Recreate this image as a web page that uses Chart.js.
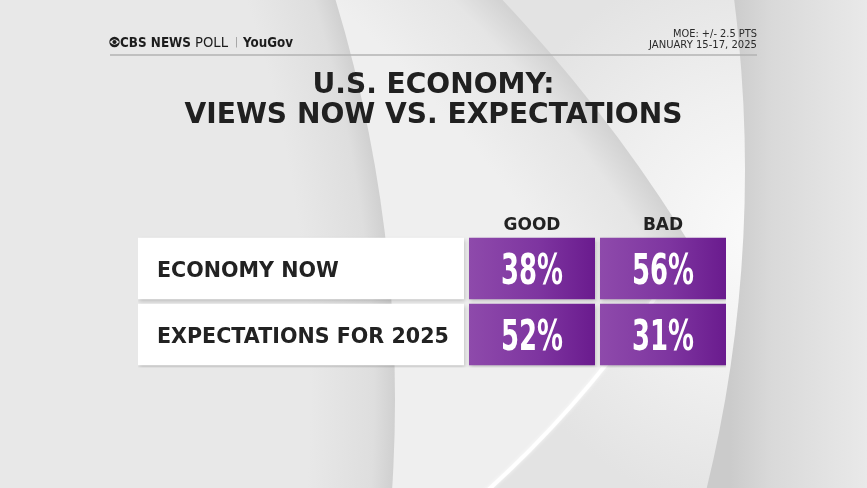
<!DOCTYPE html>
<html>
<head>
<meta charset="utf-8">
<script src="https://cdn.jsdelivr.net/npm/chart.js@4.4.1/dist/chart.umd.min.js"></script>
<style>
  html, body { margin: 0; padding: 0; background: #e8e8e8; overflow: hidden; }
</style>
</head>
<body>
<canvas id="myChart" width="867" height="488"></canvas>
<script>
// chart data
const rows = ["ECONOMY NOW", "EXPECTATIONS FOR 2025"];
const columns = ["GOOD", "BAD"];
const goodValues = [38, 52];
const badValues = [56, 31];
const titleLines = ["U.S. ECONOMY:", "VIEWS NOW VS. EXPECTATIONS"];
const moeText = "MOE: +/- 2.5 PTS";
const dateText = "JANUARY 15-17, 2025";

const values = [goodValues, badValues];

// table layout, in x-scale units (1 unit = 1px)
const LABEL_W = 326;
const CELL_W = 126;
const GAP = 5;
const colStart = (i) => LABEL_W + GAP + i * (CELL_W + GAP);
const TABLE_W = colStart(columns.length - 1) + CELL_W;

const FONT = "'DejaVu Sans', 'Open Sans', sans-serif";
const NUM_FONT = "'Liberation Sans Narrow', 'DejaVu Sans Condensed', sans-serif";

function circle(ctx, cx, cy, r) {
  ctx.beginPath();
  ctx.arc(cx, cy, r, 0, Math.PI * 2);
}

// draw text squeezed/stretched to a given width
function fitText(ctx, text, x, y, width, align) {
  const w = ctx.measureText(text).width;
  ctx.save();
  ctx.translate(x, y);
  ctx.scale(width / w, 1);
  ctx.textAlign = align;
  ctx.fillText(text, 0, 0);
  ctx.restore();
}

function purple(context) {
  const chart = context.chart;
  if (!chart.chartArea) return "#7d33a0";
  const i = context.datasetIndex - 1;
  const x = chart.scales.x;
  const x0 = x.getPixelForValue(colStart(i));
  const x1 = x.getPixelForValue(colStart(i) + CELL_W);
  const g = chart.ctx.createLinearGradient(x0, 0, x1, 0);
  g.addColorStop(0, "#8e4aab");
  g.addColorStop(0.55, "#7e35a0");
  g.addColorStop(1, "#6a1b8e");
  return g;
}

// big CBS eye in the background
const backdrop = {
  id: "backdrop",
  beforeDraw(chart) {
    const ctx = chart.ctx;
    const W = chart.width, H = chart.height;
    ctx.save();
    let g = ctx.createLinearGradient(730, 0, W, 0);
    g.addColorStop(0, "#cbcbcb");
    g.addColorStop(0.3, "#d9d9d9");
    g.addColorStop(1, "#e9e9e9");
    ctx.fillStyle = g;
    ctx.fillRect(0, 0, W, H);

    // outer ring
    circle(ctx, -596, 170, 1341);
    g = ctx.createRadialGradient(765, 235, 0, 765, 235, 280);
    g.addColorStop(0, "#fbfbfb");
    g.addColorStop(0.5, "#f0f0f0");
    g.addColorStop(1, "#e3e3e3");
    ctx.fillStyle = g;
    ctx.fill();

    // lens
    ctx.save();
    circle(ctx, -228, -301, 1069);
    ctx.clip();
    circle(ctx, -587, 1031, 1500);
    g = ctx.createRadialGradient(-587, 1031, 1380, -587, 1031, 1500);
    g.addColorStop(0, "#efefef");
    g.addColorStop(0.7, "#e5e5e5");
    g.addColorStop(1, "#d2d2d2");
    ctx.fillStyle = g;
    ctx.fill();
    ctx.restore();

    // white highlight on the lower lens edge
    ctx.save();
    ctx.beginPath();
    ctx.arc(-228, -301, 1067, 0.56, 1.0);
    ctx.strokeStyle = "rgba(255,255,255,0.95)";
    ctx.lineWidth = 4;
    ctx.shadowColor = "rgba(255,255,255,0.8)";
    ctx.shadowBlur = 4;
    ctx.stroke();
    ctx.restore();

    // pupil
    circle(ctx, -980, 400, 1375);
    g = ctx.createRadialGradient(-980, 400, 1290, -980, 400, 1375);
    g.addColorStop(0, "#e8e8e8");
    g.addColorStop(0.75, "#dedede");
    g.addColorStop(1, "#d0d0d0");
    ctx.fillStyle = g;
    ctx.fill();
    ctx.restore();
  },
  afterDraw(chart) {
    const ctx = chart.ctx;
    const cx = chart.width / 2;
    ctx.save();
    ctx.textBaseline = "alphabetic";

    // header logo
    ctx.fillStyle = "#1d1d1d";
    circle(ctx, 114.5, 42, 5.2);
    ctx.fill();
    ctx.fillStyle = "#ececec";
    ctx.beginPath();
    ctx.moveTo(109.8, 42);
    ctx.quadraticCurveTo(114.5, 36.4, 119.2, 42);
    ctx.quadraticCurveTo(114.5, 47.6, 109.8, 42);
    ctx.fill();
    ctx.fillStyle = "#1d1d1d";
    circle(ctx, 114.5, 42, 2.1);
    ctx.fill();

    ctx.font = "bold 14.5px " + FONT;
    fitText(ctx, "CBS NEWS", 120, 47.3, 71, "left");
    ctx.font = "14.5px " + FONT;
    fitText(ctx, "POLL", 195, 47.3, 33, "left");
    ctx.font = "bold 14.5px " + FONT;
    fitText(ctx, "YouGov", 243, 47.3, 50, "left");
    ctx.strokeStyle = "#a8a8a8";
    ctx.lineWidth = 1;
    ctx.beginPath();
    ctx.moveTo(236.5, 37);
    ctx.lineTo(236.5, 47.5);
    ctx.stroke();

    // MOE and dates
    ctx.fillStyle = "#2a2a2a";
    ctx.font = "11px " + FONT;
    fitText(ctx, moeText, 757, 36.5, 84, "right");
    fitText(ctx, dateText, 757, 47.5, 108, "right");

    // rule
    ctx.strokeStyle = "#b3b3b3";
    ctx.lineWidth = 1.5;
    ctx.beginPath();
    ctx.moveTo(110, 55);
    ctx.lineTo(757, 55);
    ctx.stroke();

    // title
    ctx.fillStyle = "#202020";
    ctx.font = "bold 29px " + FONT;
    fitText(ctx, titleLines[0], cx, 93, 242, "center");
    fitText(ctx, titleLines[1], cx, 123, 498, "center");
    ctx.restore();
  }
};

// drop shadow under the table boxes
const boxShadow = {
  id: "boxShadow",
  beforeDatasetsDraw(chart) {
    const ctx = chart.ctx;
    ctx.save();
    ctx.shadowColor = "rgba(0,0,0,0.2)";
    ctx.shadowBlur = 4;
    ctx.shadowOffsetX = 1;
    ctx.shadowOffsetY = 2;
  },
  afterDatasetsDraw(chart) {
    chart.ctx.restore();
  }
};

// row labels, column headers and percentages
const tableText = {
  id: "tableText",
  afterDatasetsDraw(chart) {
    const ctx = chart.ctx;
    const x = chart.scales.x;
    const y = chart.scales.y;
    const first = chart.getDatasetMeta(1).data[0];
    const top = first.y - first.height / 2;
    ctx.save();
    ctx.textBaseline = "alphabetic";

    ctx.fillStyle = "#222222";
    ctx.font = "bold 17px " + FONT;
    columns.forEach((c, i) => {
      const mid = x.getPixelForValue(colStart(i) + CELL_W / 2);
      ctx.textAlign = "center";
      ctx.fillText(c, mid, top - 8);
    });

    ctx.font = "bold 22px " + FONT;
    const labelScale = (186 / ctx.measureText(rows[0]).width + 285 / ctx.measureText(rows[1]).width) / 2;
    rows.forEach((r, i) => {
      const yc = y.getPixelForValue(i);
      const w = ctx.measureText(r).width * labelScale;
      fitText(ctx, r, x.getPixelForValue(0) + 19, yc + 8.5, w, "left");
    });

    ctx.fillStyle = "#ffffff";
    ctx.font = "bold 42px " + NUM_FONT;
    const numScale = 62 / ctx.measureText("38%").width;
    values.forEach((vals, i) => {
      const mid = x.getPixelForValue(colStart(i) + CELL_W / 2);
      vals.forEach((v, j) => {
        const t = v + "%";
        const w = ctx.measureText(t).width * numScale;
        fitText(ctx, t, mid, y.getPixelForValue(j) + 15, w, "center");
      });
    });
    ctx.restore();
  }
};

const datasets = [
  {
    label: "rows",
    data: rows.map(() => [0, LABEL_W]),
    backgroundColor: "#ffffff"
  }
].concat(columns.map((c, i) => ({
  label: c,
  data: values[i].map(() => [colStart(i), colStart(i) + CELL_W]),
  backgroundColor: purple
})));

datasets.forEach((d) => {
  d.grouped = false;
  d.barPercentage = 0.93;
  d.categoryPercentage = 1;
  d.borderWidth = 0;
});

const ctx = document.getElementById("myChart").getContext("2d");
new Chart(ctx, {
  type: "bar",
  data: { labels: rows, datasets: datasets },
  options: {
    indexAxis: "y",
    responsive: false,
    animation: false,
    layout: { padding: { left: 138, right: 867 - 138 - TABLE_W, top: 235.5, bottom: 120.5 } },
    scales: {
      x: { type: "linear", min: 0, max: TABLE_W, display: false },
      y: { type: "category", display: false }
    },
    plugins: {
      legend: { display: false },
      tooltip: { enabled: false }
    }
  },
  plugins: [backdrop, boxShadow, tableText]
});
</script>
</body>
</html>
